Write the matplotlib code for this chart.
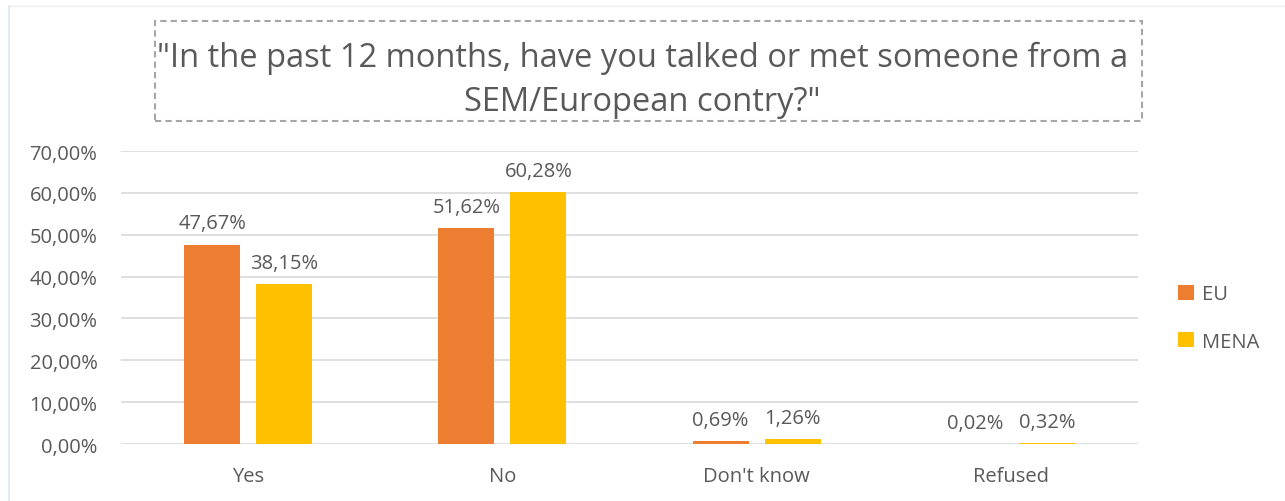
import numpy as np
import matplotlib.pyplot as plt
from matplotlib.patches import Rectangle
from matplotlib.lines import Line2D

# ---------- Data ----------
categories = ['Yes', 'No', "Don't know", 'Refused']
eu = [47.67, 51.62, 0.69, 0.02]
mena = [38.15, 60.28, 1.26, 0.32]
yticks = [0, 10, 20, 30, 40, 50, 60, 70]

title = '"In the past 12 months, have you talked or met someone from a\nSEM/European contry?"'

C_EU = '#ED7D31'
C_MENA = '#FFC000'
TXT = '#595959'
FS = 14.5

plt.rcParams['font.family'] = ['Open Sans', 'DejaVu Sans']

fig = plt.figure(figsize=(12.85, 5.02), dpi=100)
ax = fig.add_axes([0.0942, 0.1135, 0.7914, 0.5835])

x = np.arange(len(categories))
w = 0.22
off = 0.1415
b1 = ax.bar(x - off, eu, w, color=C_EU, label='EU', zorder=3)
b2 = ax.bar(x + off, mena, w, color=C_MENA, label='MENA', zorder=3)

for bars, vals in ((b1, eu), (b2, mena)):
    for r, v in zip(bars, vals):
        ax.annotate(f'{v:.2f}%'.replace('.', ','),
                    (r.get_x() + r.get_width() / 2, r.get_height()),
                    xytext=(0, 8), textcoords='offset points',
                    ha='center', va='bottom', fontsize=FS, color=TXT)

ax.set_xlim(-0.5, 3.5)
ax.set_ylim(0, 70)
ax.set_yticks(yticks)
ax.set_yticklabels([f'{t:.2f}%'.replace('.', ',') for t in yticks])
ax.set_xticks(x)
ax.set_xticklabels(categories)
ax.tick_params(axis='both', length=0, labelsize=FS, colors=TXT)
ax.tick_params(axis='y', pad=17)
ax.tick_params(axis='x', pad=16)
ax.grid(True, axis='y', color='#D9D9D9', linewidth=1.2, zorder=0)
for s in ax.spines.values():
    s.set_visible(False)

# Legend
ax.legend(loc='center left', bbox_to_anchor=(1.022, 0.43), frameon=False,
          fontsize=FS, labelcolor=TXT, handlelength=0.75, handleheight=0.75,
          labelspacing=1.35, handletextpad=0.4)

# Title in dashed box
fig.text(0.5, 0.84, title, ha='center', va='center', fontsize=23.5,
         color=TXT, linespacing=1.45)
fig.patches.append(Rectangle((155 / 1285, 1 - 122 / 502), (1142 - 155) / 1285,
                             100 / 502, transform=fig.transFigure, fill=False,
                             edgecolor='#A6A6A6', linestyle=(0, (3, 2)),
                             linewidth=1.5))

# faint chart border
fig.lines.append(Line2D([9 / 1285, 9 / 1285], [0, 1 - 7 / 502], transform=fig.transFigure,
                        color='#DCE4F2', linewidth=1.2))
fig.lines.append(Line2D([9 / 1285, 1], [1 - 7 / 502, 1 - 7 / 502], transform=fig.transFigure,
                        color='#EFEFEF', linewidth=1))

plt.savefig('out.png', dpi=100)
